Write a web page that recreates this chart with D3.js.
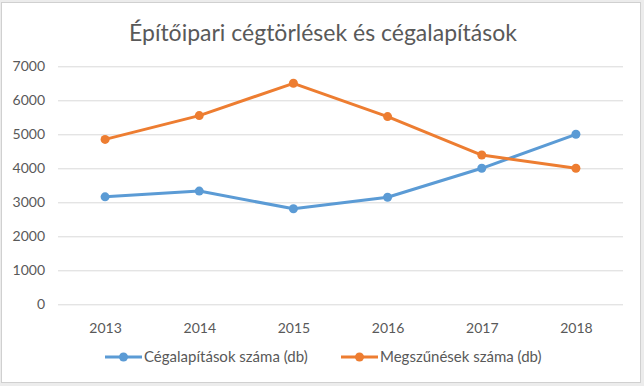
<!DOCTYPE html>
<html>
<head>
<meta charset="utf-8">
<title>Építőipari cégtörlések és cégalapítások</title>
<script src="https://d3js.org/d3.v7.min.js"></script>
<style>
  body { margin: 0; padding: 0; background: #ececec; }
  svg { display: block; }
  text { font-family: Lato, "Open Sans", sans-serif; fill: #595959; }
  .title { font-size: 23px; }
  .tick text { font-size: 14px; }
  .legend text { font-size: 15px; }
</style>
</head>
<body>
<div id="chart"></div>
<script>
// data
var years = ["2013", "2014", "2015", "2016", "2017", "2018"];
var alapitas = [3160, 3330, 2810, 3150, 4000, 5000];   // Cégalapítások száma (db)
var megszunes = [4850, 5550, 6500, 5520, 4390, 4000];  // Megszűnések száma (db)
var seriesNames = ["Cégalapítások száma (db)", "Megszűnések száma (db)"];
var yTicks = [0, 1000, 2000, 3000, 4000, 5000, 6000, 7000];

var W = 644, H = 386;
var margin = { top: 66.3, right: 21, bottom: 81.7, left: 58 };
var colors = ["#5b9bd5", "#ed7d31"];

var svg = d3.select("#chart").append("svg")
    .attr("width", W)
    .attr("height", H);

// chart frame
svg.append("rect")
    .attr("x", 1.5).attr("y", 2.5)
    .attr("width", 639).attr("height", 380)
    .attr("fill", "#fff")
    .attr("stroke", "#d0d0d0");

svg.append("text")
    .attr("class", "title")
    .attr("x", W / 2 + 1)
    .attr("y", 41)
    .attr("text-anchor", "middle")
    .text("Építőipari cégtörlések és cégalapítások");

var x = d3.scalePoint()
    .domain(years)
    .range([margin.left, W - margin.right])
    .padding(0.5);

var y = d3.scaleLinear()
    .domain([0, 7000])
    .range([H - margin.bottom, margin.top]);

// gridlines + y labels
var yAxis = d3.axisLeft(y)
    .tickValues(yTicks)
    .tickSize(-(W - margin.left - margin.right))
    .tickPadding(13)
    .tickFormat(d3.format("d"));

svg.append("g")
    .attr("transform", "translate(" + margin.left + ",0)")
    .call(yAxis)
    .call(function(g) {
      g.select(".domain").remove();
      g.selectAll(".tick line").attr("stroke", "#d9d9d9");
    });

var xAxis = d3.axisBottom(x).tickSize(0).tickPadding(19);

svg.append("g")
    .attr("transform", "translate(0," + (H - margin.bottom) + ")")
    .call(xAxis)
    .call(function(g) {
      g.select(".domain").remove();
    });

var series = [alapitas, megszunes];

var line = d3.line()
    .x(function(d, i) { return x(years[i]); })
    .y(function(d) { return y(d); });

series.forEach(function(vals, s) {
  svg.append("path")
      .datum(vals)
      .attr("fill", "none")
      .attr("stroke", colors[s])
      .attr("stroke-width", 3)
      .attr("stroke-linejoin", "round")
      .attr("d", line);

  svg.selectAll(".dot" + s)
      .data(vals)
    .enter().append("circle")
      .attr("class", "dot" + s)
      .attr("cx", function(d, i) { return x(years[i]); })
      .attr("cy", function(d) { return y(d); })
      .attr("r", 4.5)
      .attr("fill", colors[s]);
});

// legend
var legendX = [105, 341];
var legend = svg.append("g").attr("class", "legend");
seriesNames.forEach(function(name, s) {
  var g = legend.append("g").attr("transform", "translate(" + legendX[s] + ",357)");
  g.append("line")
      .attr("x1", 0).attr("x2", 37)
      .attr("stroke", colors[s])
      .attr("stroke-width", 3);
  g.append("circle")
      .attr("cx", 18.5).attr("r", 4.5)
      .attr("fill", colors[s]);
  g.append("text")
      .attr("x", 39)
      .attr("dy", "0.35em")
      .text(name);
});
</script>
</body>
</html>
